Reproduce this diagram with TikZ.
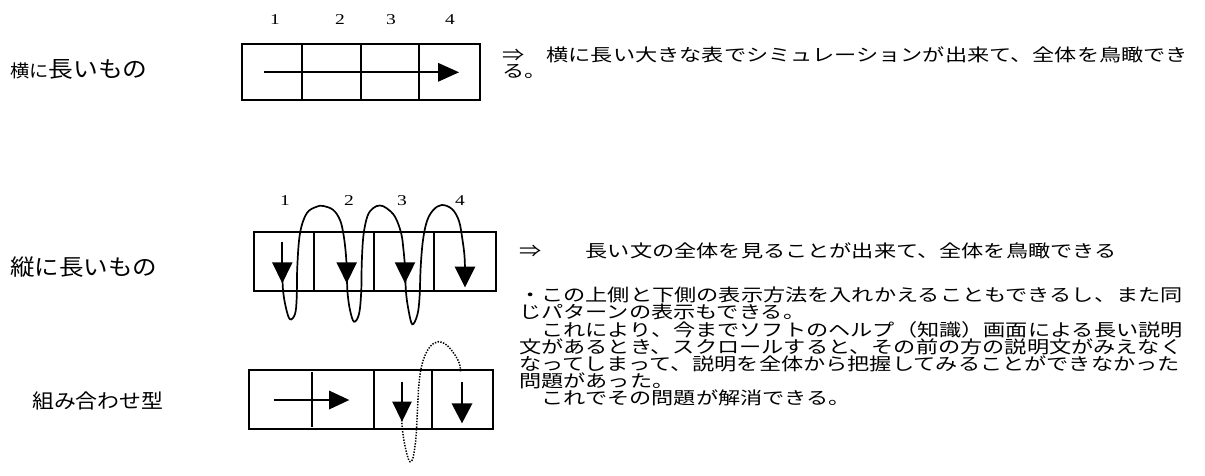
\documentclass[tikz,border=0pt]{standalone}
\usepackage{fontspec}
\newfontfamily\jpR[FakeStretch=1.275]{Noto Sans CJK JP}
\newfontfamily\jpL[FakeStretch=1.1]{Noto Sans CJK JP}
\newfontfamily\digf[FakeStretch=1.3]{Liberation Serif}
\newcommand\dtri[4]{\fill (#1-#4,#2) -- (#1+#4,#2) -- (#1,#3) -- cycle;}
\newcommand\rtri[4]{\fill (#1,#3-#4) -- (#1,#3+#4) -- (#2,#3) -- cycle;}
\tikzset{
  tbl/.style={line width=1.8pt},
  shaft/.style={line width=1.9pt},
  loopline/.style={line width=1.7pt},
  dotline/.style={line width=1.5pt, dash pattern=on 1.4pt off 1.4pt},
  rtext/.style={anchor=west, inner sep=0pt, font=\jpR\fontsize{17.4}{17.4}\selectfont},
  ltext/.style={anchor=west, inner sep=0pt},
  num/.style={inner sep=0pt, font=\digf\fontsize{15}{15}\selectfont},
}
\begin{document}
\begin{tikzpicture}[x=1pt,y=-1pt]
\useasboundingbox (0,0) rectangle (1205,475);
\fill[white] (0,0) rectangle (1205,475);

% left labels
\node[ltext] (l1) at (10,69) {\jpL\fontsize{17.5}{17.5}\selectfont 横に\fontsize{22.5}{22.5}\selectfont 長いもの};
\node[ltext] (l2) at (10,267) {\jpL\fontsize{22.3}{22.3}\selectfont 縦に長いもの};
\node[ltext] (l3) at (32,401) {\jpL\fontsize{19.9}{19.9}\selectfont 組み合わせ型};

% numbers
\node[num] (t1) at (275,20) {1};
\node[num] (t2) at (340,20) {2};
\node[num] (t3) at (391,20) {3};
\node[num] (t4) at (450,20) {4};
\node[num] (m1) at (285,201) {1};
\node[num] (m2) at (349,201) {2};
\node[num] (m3) at (402,201) {3};
\node[num] (m4) at (460,201) {4};

% top table
\draw[tbl] (242.3,44.3) rectangle (480,100);
\foreach \x in {302.3,360.7,418.7} \draw[tbl] (\x,44.3) -- (\x,100);
\draw[shaft] (264,72.3) -- (440,72.3);
\rtri{438}{459}{72.3}{9.5}

% middle table
\draw[tbl] (254.3,232.3) rectangle (496,291);
\foreach \x in {314.3,374.3,434.3} \draw[tbl] (\x,232.3) -- (\x,291);
\draw[shaft] (282.3,241.7) -- (282.3,265);
\draw[loopline] plot[smooth, tension=0.6] coordinates {(282.3,268) (283,290) (286,308) (290,319.3) (295,314) (296.7,298) (297.3,266.7) (300,233.3) (306.7,213.3) (316.7,206.7) (323.3,206) (333.3,210) (340,220) (343.3,233.3) (345.5,250) (346.7,266)};
\draw[loopline] plot[smooth, tension=0.6] coordinates {(346.7,268) (347.5,292) (350,310) (354,321.7) (359,314) (361.2,292) (361.8,262) (363.5,235) (367.5,216) (373.3,208) (380,205.5) (386.7,208.3) (395,216.7) (401.2,233.3) (403.5,250) (405,266)};
\draw[loopline] plot[smooth, tension=0.6] coordinates {(405,268) (406,292) (408.5,310) (412.3,324.3) (417.3,315) (419.5,298) (420.7,266.7) (423,240) (427,221) (433.3,210) (441.7,205) (452,209) (459,221) (462.5,240) (464.5,256) (465,270)};
\dtri{282.3}{262.3}{283.3}{10.3}
\dtri{346.7}{262.3}{283.3}{10.3}
\dtri{405}{262.3}{283.3}{10.3}
\dtri{465}{266.7}{287.3}{10.3}

% bottom table
\draw[tbl] (249.3,370) rectangle (492.7,429);
\foreach \x in {374,431.7} \draw[tbl] (\x,370) -- (\x,429);
\draw[tbl] (312,372) -- (312,427);
\draw[shaft] (274.3,400) -- (331,400);
\rtri{329}{349.3}{400}{9.5}
\draw[shaft] (402,381.7) -- (402,403);
\draw[shaft] (462,381.7) -- (462,405);
\draw[dotline] plot[smooth, tension=0.6] coordinates {(401.7,420) (403.3,436.7) (406.7,453.3) (410,461.7) (413.3,456.7) (416,436.7) (417.3,413.3) (419.3,380) (423.3,360) (430,346.7) (438.3,341.7) (446.7,345) (455,355) (459.3,363.3) (460.7,371.7)};
\dtri{402}{401.7}{421.7}{9.8}
\dtri{462}{403.3}{423.3}{10.5}

% right text
\node[rtext] (p1a) at (502,55) {⇒　横に長い大きな表でシミュレーションが出来て、全体を鳥瞰でき};
\node[rtext] (p1b) at (502,71.5) {る。};
\node[rtext] (p2) at (519,250.5) {⇒　　長い文の全体を見ることが出来て、全体を鳥瞰できる};
\node[rtext] (q1) at (519,295) {・この上側と下側の表示方法を入れかえることもできるし、また同};
\node[rtext] (q2) at (519,312.2) {じパターンの表示もできる。};
\node[rtext] (q3) at (519,329.4) {　これにより、今までソフトのヘルプ（知識）画面による長い説明};
\node[rtext] (q4) at (519,346.6) {文があるとき、スクロールすると、その前の方の説明文がみえなく};
\node[rtext] (q5) at (519,363.8) {なってしまって、説明を全体から把握してみることができなかった};
\node[rtext] (q6) at (519,381) {問題があった。};
\node[rtext] (q7) at (519,398.2) {　これでその問題が解消できる。};
\end{tikzpicture}
\end{document}
